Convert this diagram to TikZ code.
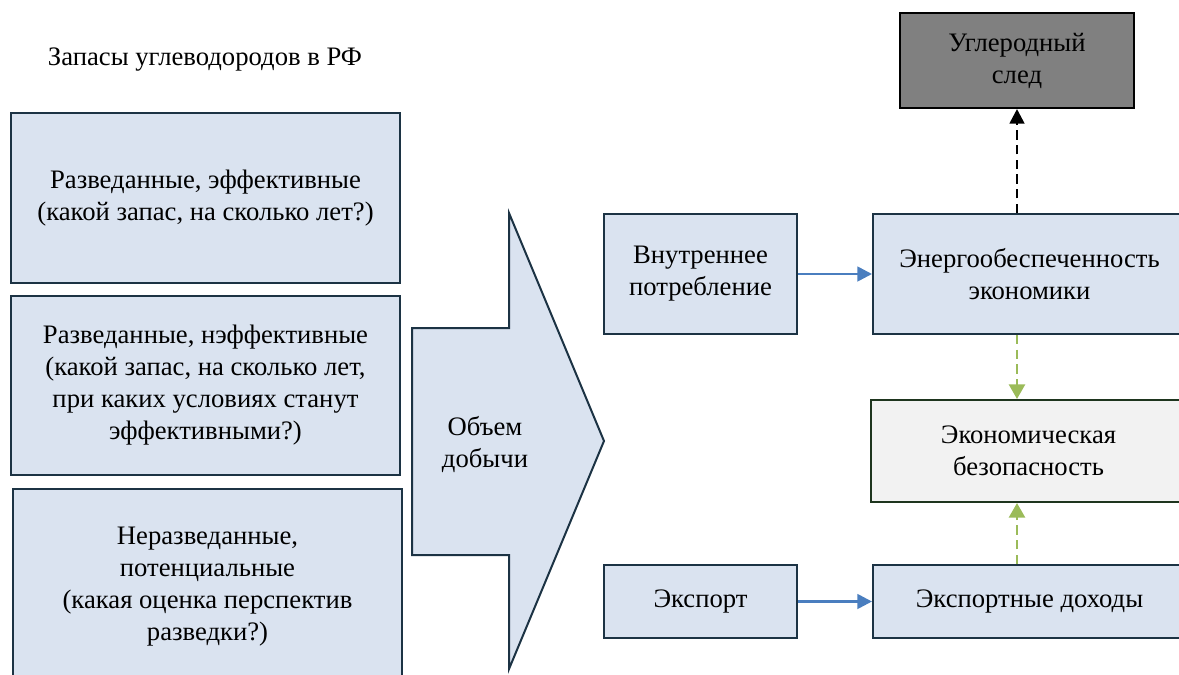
\documentclass[tikz,border=0pt]{standalone}
\usepackage{fontspec}
\setmainfont{Liberation Serif}
\usetikzlibrary{arrows.meta}
\definecolor{boxfill}{HTML}{DAE3F0}
\definecolor{boxline}{HTML}{1C3344}
\definecolor{arrblue}{HTML}{4A7EBF}
\definecolor{arrgreen}{HTML}{9BBB59}
\definecolor{secline}{HTML}{1E351E}

\tikzset{
  box/.style={draw=boxline, fill=boxfill, line width=1.5pt, align=center,
    font=\fontsize{20}{24}\selectfont, inner sep=0pt},
  blueflow/.style={draw=arrblue, line width=2pt, -{Triangle[length=11pt,width=11pt]}},
  greenflow/.style={draw=arrgreen, line width=2pt, dash pattern=on 7pt off 4pt,
    -{Triangle[length=11pt,width=12pt]}},
}

\begin{document}
\begin{tikzpicture}[x=0.75pt,y=-0.75pt]
\useasboundingbox (0,0) rectangle (1179,675);
\clip (0,0) rectangle (1179,675);

% left column:
\node[font=\fontsize{20}{24}\selectfont] (title) at (205,60) {Запасы углеводородов в РФ};

\node[box, minimum width=291.75pt, minimum height=127.5pt] (ref1) at (205.5,198)
  {Разведанные, эффективные\\(какой запас, на сколько лет?)};
\node[box, minimum width=291.75pt, minimum height=134.25pt] (ref2) at (205.5,385.5)
  {Разведанные, нэффективные\\(какой запас, на сколько лет,\\при каких условиях станут\\эффективными?)};
\node[box, minimum width=291.75pt, minimum height=147pt] (ref3) at (207.5,587)
  {Неразведанные,\\потенциальные\\(какая оценка перспектив\\разведки?)};

% big arrow:
\draw[draw=boxline, fill=boxfill, line width=1.5pt]
  (412,328) -- (509,328) -- (509,213) -- (604,441) -- (509,669) -- (509,555) -- (412,555) -- cycle;
\node[font=\fontsize{20}{24}\selectfont, align=center] (vol) at (485,445) {Объем\\добычи};

% right part:
\node[box, minimum width=144.75pt, minimum height=90pt] (inner) at (700.5,274)
  {Внутреннее\\потребление};
\node[box, minimum width=144.75pt, minimum height=54.75pt] (export) at (700.5,601.5)
  {Экспорт};
\node[box, minimum width=234.75pt, minimum height=90pt] (energy) at (1029.5,274)
  {Энергообеспеченность\\экономики};
\node[box, draw=secline, fill=black!5, minimum width=236.25pt, minimum height=76.5pt] (secur) at (1028.5,451)
  {Экономическая\\безопасность};
\node[box, minimum width=234.75pt, minimum height=54.75pt] (income) at (1029.5,601.5)
  {Экспортные доходы};
\node[box, draw=black, fill=black!50, minimum width=175.5pt, minimum height=71.25pt] (carbon) at (1017,60.5)
  {Углеродный\\след};

\draw[blueflow] (inner) -- (energy);
\draw[blueflow] (export) -- (income);

\draw[line width=2pt, dash pattern=on 7pt off 4pt, -{Triangle[length=11pt,width=11pt]}]
  (energy.north -| carbon.south) -- (carbon.south);
\draw[greenflow] (energy.south -| carbon.south) -- (secur.north -| carbon.south);
\draw[greenflow] (income.north -| carbon.south) -- (secur.south -| carbon.south);

\end{tikzpicture}
\end{document}
